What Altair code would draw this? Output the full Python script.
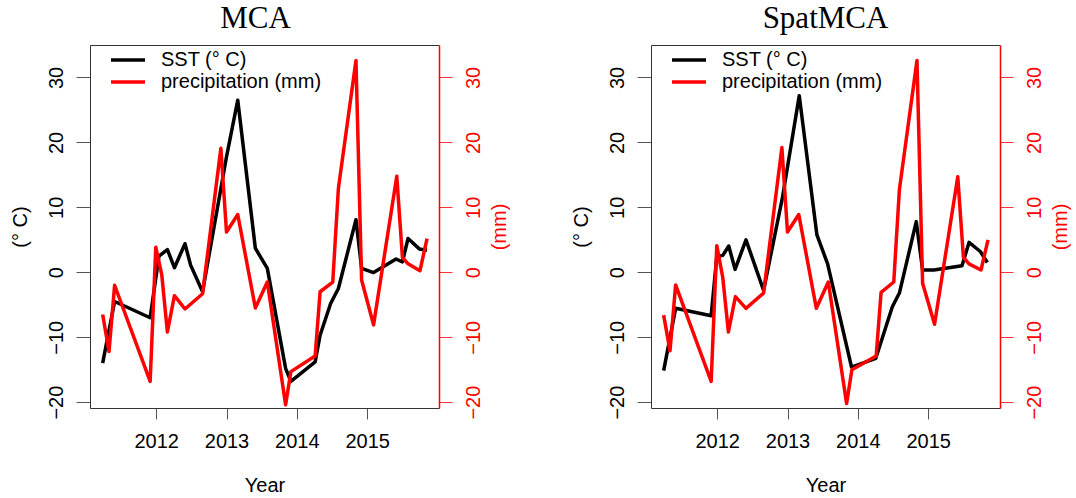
import altair as alt
import pandas as pd

series_names = ["SST (° C)", "precipitation (mm)"]
year_ticks = [2012, 2013, 2014, 2015]
value_ticks = [-20, -10, 0, 10, 20, 30]

# ---- MCA panel ----
mca_sst_t = [2011.24, 2011.41, 2011.915, 2012.04, 2012.16, 2012.26, 2012.41, 2012.49,
             2012.66, 2013.0, 2013.16, 2013.41, 2013.58, 2013.84, 2013.915, 2014.26,
             2014.33, 2014.48, 2014.59, 2014.84, 2014.92, 2015.09, 2015.41, 2015.5,
             2015.58, 2015.74, 2015.85]
mca_sst_v = [-14.0, -4.5, -7.0, 2.5, 3.5, 0.7, 4.4, 1.1,
             -3.0, 17.8, 26.5, 3.7, 0.6, -14.8, -16.8, -13.8,
             -9.7, -4.8, -2.5, 8.1, 0.6, -0.05, 2.05, 1.6,
             5.2, 3.6, 3.4]
mca_pr_t = [2011.24, 2011.33, 2011.41, 2011.915, 2011.995, 2012.08, 2012.16, 2012.26,
            2012.41, 2012.66, 2012.92, 2013.0, 2013.16, 2013.41, 2013.58, 2013.84,
            2013.915, 2014.26, 2014.33, 2014.51, 2014.59, 2014.84, 2014.92, 2015.09,
            2015.42, 2015.5, 2015.58, 2015.75, 2015.85]
mca_pr_v = [-6.5, -12.2, -2.0, -16.8, 3.85, -0.4, -9.2, -3.6,
            -5.65, -3.3, 19.1, 6.2, 8.9, -5.5, -1.5, -20.4,
            -15.3, -12.9, -3.0, -1.5, 12.9, 32.6, -1.2, -8.1,
            14.8, 2.3, 1.3, 0.25, 5.2]

# ---- SpatMCA panel ----
spat_sst_t = [2011.24, 2011.41, 2011.915, 2011.995, 2012.08, 2012.165, 2012.255, 2012.41,
              2012.66, 2012.93, 2013.167, 2013.418, 2013.57, 2013.91, 2014.255, 2014.49,
              2014.59, 2014.83, 2014.92, 2015.08, 2015.48, 2015.58, 2015.74, 2015.84]
spat_sst_v = [-15.15, -5.55, -6.7, 2.4, 2.6, 4.05, 0.45, 5.0,
              -2.8, 11.6, 27.2, 5.75, 1.3, -14.6, -13.25, -5.3,
              -3.2, 7.8, 0.35, 0.35, 1.0, 4.6, 3.2, 1.5]
spat_pr_t = [2011.24, 2011.33, 2011.41, 2011.915, 2011.995, 2012.08, 2012.16, 2012.26,
             2012.41, 2012.66, 2012.92, 2013.0, 2013.16, 2013.41, 2013.58, 2013.84,
             2013.915, 2014.26, 2014.33, 2014.51, 2014.59, 2014.84, 2014.92, 2015.09,
             2015.42, 2015.5, 2015.58, 2015.75, 2015.85]
spat_pr_v = [-6.6, -12.1, -1.95, -16.8, 4.1, -0.8, -9.2, -3.75,
             -5.55, -3.2, 19.2, 6.2, 8.9, -5.55, -1.5, -20.2,
             -15.0, -12.9, -3.1, -1.5, 12.7, 32.6, -1.7, -8.0,
             14.7, 2.3, 1.3, 0.35, 5.0]

X_DOMAIN = [2011.06, 2016.02]
Y_DOMAIN = [-20.9, 35.0]
W, H = 349, 363
SANS = "Liberation Sans"


def panel(title, sst_t, sst_v, pr_t, pr_v, title_dx):
    df = pd.DataFrame({
        "t": sst_t + pr_t,
        "v": sst_v + pr_v,
        "series": [series_names[0]] * len(sst_t) + [series_names[1]] * len(pr_t),
    })
    color = alt.Color(
        "series:N",
        sort=series_names,
        scale=alt.Scale(domain=series_names, range=["#000000", "#ff0000"]),
        legend=alt.Legend(
            orient="none", legendX=26, legendY=3, title=None,
            symbolType="M-1.7,0H1.7", symbolSize=400, symbolStrokeWidth=3.5,
            labelFontSize=20, labelFont=SANS, labelColor="black", labelLimit=1000,
            labelOffset=21, rowPadding=0, padding=0,
        ),
    )
    xs = alt.Scale(domain=X_DOMAIN, nice=False, zero=False)
    ys = alt.Scale(domain=Y_DOMAIN, nice=False, zero=False)
    base = alt.Chart(df)
    sst = base.transform_filter(alt.datum.series == series_names[0]).mark_line(
        strokeWidth=3.5, strokeJoin="round"
    ).encode(
        x=alt.X("t:Q", scale=xs, title="Year", axis=alt.Axis(
            orient="bottom", values=year_ticks, format="d", grid=False,
            domainColor="#333333", domainWidth=1, tickColor="#555555", tickSize=11,
            labelFontSize=20, labelFont=SANS, labelColor="black", labelPadding=12,
            labelFlush=False, titleFontSize=20, titleFont=SANS, titleFontWeight="normal",
            titlePadding=24, titleColor="black")),
        y=alt.Y("v:Q", scale=ys, title="(° C)", axis=alt.Axis(
            orient="left", values=value_ticks, grid=False,
            domainColor="#333333", domainWidth=1, tickColor="#555555", tickSize=14,
            labelAngle=270, labelAlign="center", labelBaseline="bottom", labelPadding=10,
            labelFontSize=20, labelFont=SANS, labelColor="black",
            titleAngle=270, titleX=-70, titleY=H / 2, titleAlign="center",
            titleBaseline="middle", titleFontSize=20, titleFont=SANS,
            titleFontWeight="normal", titleColor="black")),
        color=color,
    )
    pr = base.transform_filter(alt.datum.series == series_names[1]).mark_line(
        strokeWidth=3.5, strokeJoin="round"
    ).encode(
        x=alt.X("t:Q", scale=xs, title=None, axis=alt.Axis(
            orient="top", labels=False, ticks=False, grid=False,
            domainColor="#333333", domainWidth=1)),
        y=alt.Y("v:Q", scale=ys, title="(mm)", axis=alt.Axis(
            orient="right", values=value_ticks, grid=False,
            domainColor="#ff0000", domainWidth=1.5, tickColor="#ff3333", tickSize=13,
            labelAngle=270, labelAlign="center", labelBaseline="top", labelPadding=11,
            labelFontSize=20, labelFont=SANS, labelColor="#ff0000",
            titleAngle=270, titleX=60, titleY=H / 2, titleAlign="center",
            titleBaseline="middle", titleFontSize=20, titleFont=SANS,
            titleFontWeight="normal", titleColor="#ff0000")),
        color=color,
    )
    return alt.layer(sst, pr).resolve_scale(x="independent", y="independent").properties(
        width=W, height=H,
        title=alt.TitleParams(title, font="Liberation Serif", fontSize=31,
                              fontWeight="normal", anchor="middle", dx=title_dx,
                              color="black", offset=10),
    )


left = panel("MCA", mca_sst_t, mca_sst_v, mca_pr_t, mca_pr_v, -9)
right = panel("SpatMCA", spat_sst_t, spat_sst_v, spat_pr_t, spat_pr_v, 0)

chart = alt.hconcat(left, right, spacing=60).resolve_scale(color="independent").properties(
    padding={"left": 9, "top": 2, "right": 0, "bottom": 0}
).configure_view(strokeWidth=0).configure(font=SANS)

chart.save("out.html", embed_options={"renderer": "svg", "actions": False})
